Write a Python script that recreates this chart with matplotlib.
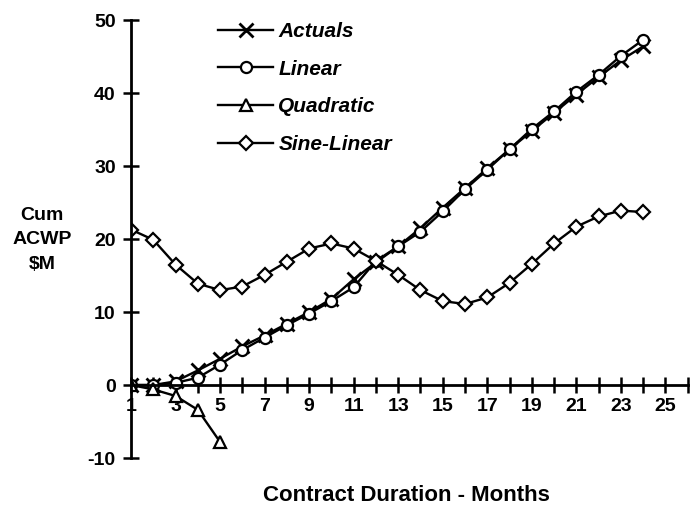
import numpy as np
import matplotlib
matplotlib.use("Agg")
import matplotlib.pyplot as plt

plt.rcParams['font.family'] = ['Liberation Sans', 'DejaVu Sans']

months = np.arange(1, 25)
actuals = [0, 0, 0.5, 2.0, 3.6, 5.3, 6.8, 8.4, 10.0, 11.8, 14.5, 16.8,
           19.0, 21.5, 24.3, 27.0, 29.7, 32.3, 34.8, 37.3, 39.8, 42.2, 44.5, 46.4]
linear = [0, 0, 0.3, 1.0, 2.8, 4.8, 6.5, 8.2, 9.8, 11.5, 13.4, 17.0,
          19.0, 21.0, 23.8, 26.8, 29.5, 32.3, 35.1, 37.5, 40.2, 42.5, 45.1, 47.3]
quad_months = [1, 2, 3, 4, 5]
quadratic = [0, -0.6, -1.5, -3.4, -7.8]
sine_linear = [21.3, 19.9, 16.5, 13.9, 13.0, 13.5, 15.1, 16.9, 18.7, 19.4, 18.7, 17.0,
               15.1, 13.0, 11.5, 11.1, 12.0, 14.0, 16.6, 19.4, 21.7, 23.1, 23.9, 23.7]

xticks = np.arange(1, 27)
xlabels = [str(m) if m % 2 == 1 else "" for m in xticks]
yticks = [-10, 0, 10, 20, 30, 40, 50]

fig = plt.figure(figsize=(6.95, 5.08), dpi=100)
ax = fig.add_axes([0.1885, 0.0984, 0.801, 0.862])

style = dict(color='black', lw=1.7, mfc='white', mec='black', mew=1.6)
ax.plot(months, actuals, marker='x', ms=9.5, lw=1.7, color='black', mew=2, label='Actuals')
ax.plot(months, linear, marker='o', ms=8, label='Linear', **style)
ax.plot(quad_months, quadratic, marker='^', ms=8.5, label='Quadratic', **style)
ax.plot(months, sine_linear, marker='D', ms=7.5, label='Sine-Linear', **style)

ax.set_xlim(1, 26)
ax.set_ylim(-10, 50)
ax.spines['top'].set_visible(False)
ax.spines['right'].set_visible(False)
ax.spines['bottom'].set_position(('data', 0))
ax.spines['left'].set_linewidth(2)
ax.spines['bottom'].set_linewidth(2)

ax.set_xticks(xticks)
ax.set_xticklabels(xlabels, fontsize=14, fontweight='bold')
ax.set_yticks(yticks)
ax.set_yticklabels([str(v) for v in yticks], fontsize=14, fontweight='bold')
ax.tick_params(axis='both', direction='inout', length=12, width=1.8)
ax.tick_params(axis='x', pad=3)
ax.tick_params(axis='y', pad=5)

fig.text(0.0604, 0.5276, "Cum\nACWP\n$M", ha='center', va='center',
         fontsize=14, fontweight='bold', linespacing=1.55)
fig.text(0.585, 0.024, "Contract Duration - Months", ha='center', va='center',
         fontsize=16, fontweight='bold')

leg = ax.legend(loc='upper left', bbox_to_anchor=(0.3137, 0.9567),
                bbox_transform=fig.transFigure, frameon=False,
                borderpad=0, borderaxespad=0,
                prop=dict(size=15, weight='bold', style='italic'),
                handlelength=2.65, labelspacing=0.9, handletextpad=0.25)

fig.savefig("out.png", dpi=100)
